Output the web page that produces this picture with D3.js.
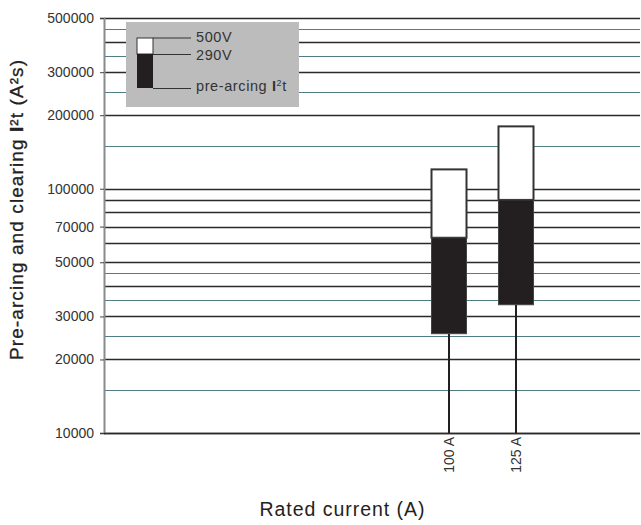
<!DOCTYPE html>
<html>
<head>
<meta charset="utf-8">
<script src="https://cdn.jsdelivr.net/npm/d3@7"></script>
<style>
html,body{margin:0;padding:0;background:#fff;}
svg{display:block;font-family:"Liberation Sans",Arial,sans-serif;}
</style>
</head>
<body>
<svg id="chart" width="641" height="525"></svg>
<script>
// Data
const categories = ["100 A", "125 A"];
const preArcing = [25500, 33500];
const clearing290V = [63000, 90000];
const clearing500V = [120000, 180000];
const majorGrid = [10000, 20000, 30000, 40000, 50000, 60000, 70000, 80000, 90000, 100000, 200000, 300000, 400000, 500000];
const minorGrid = [15000, 25000, 35000, 45000, 150000, 250000, 350000, 450000];
const yTickLabels = [10000, 20000, 30000, 50000, 70000, 100000, 200000, 300000, 500000];
const legendLabels = ["500V", "290V", "pre-arcing"];

const svg = d3.select("#chart");
const mLeft = 104, mRight = 640, mTop = 18, mBottom = 433;

const y = d3.scaleLog().domain([10000, 500000]).range([mBottom, mTop]);
const x = d3.scalePoint().domain(["", "100 A", "125 A", " "]).range([382, 583]);

// grid
svg.append("g").selectAll("line").data(minorGrid).join("line")
  .attr("x1", mLeft).attr("x2", mRight)
  .attr("y1", d => Math.round(y(d)) + 0.5).attr("y2", d => Math.round(y(d)) + 0.5)
  .attr("stroke", "#4f7d84").attr("stroke-width", 1.2);
svg.append("g").selectAll("line").data(majorGrid).join("line")
  .attr("x1", mLeft).attr("x2", mRight)
  .attr("y1", d => Math.round(y(d)) + 0.5).attr("y2", d => Math.round(y(d)) + 0.5)
  .attr("stroke", "#2a2a2a").attr("stroke-width", 1.4);

// y axis
const yAxis = d3.axisLeft(y).tickValues(yTickLabels).tickFormat(d3.format("d")).tickSize(4).tickPadding(6);
const gy = svg.append("g").attr("transform", `translate(${mLeft},0)`).call(yAxis);
gy.select(".domain").attr("stroke", "#8a8a8a").attr("stroke-width", 2);
gy.selectAll(".tick line").attr("stroke", "#444");
gy.selectAll(".tick text").attr("font-size", 14).attr("fill", "#333")
  .attr("font-family", "'Liberation Sans',Arial,sans-serif");

// bottom axis
const xAxis = d3.axisBottom(x).tickValues(categories).tickSize(0).tickPadding(4);
const gx = svg.append("g").attr("transform", `translate(0,${mBottom})`).call(xAxis);
gx.select(".domain").remove();
gx.selectAll(".tick text").attr("font-size", 14).attr("fill", "#333")
  .attr("font-family", "'Liberation Sans',Arial,sans-serif")
  .attr("transform", "rotate(-90)")
  .attr("text-anchor", "end").attr("dy", "0.35em").attr("x", -4).attr("y", 0);
svg.append("line").attr("x1", mLeft).attr("x2", mRight).attr("y1", mBottom + 0.5).attr("y2", mBottom + 0.5)
  .attr("stroke", "#2a2a2a").attr("stroke-width", 1.6);

// bars
const bw = 35;
const g = svg.append("g");
categories.forEach((c, i) => {
  const cx = x(c);
  g.append("line").attr("x1", cx).attr("x2", cx).attr("y1", y(preArcing[i])).attr("y2", mBottom)
    .attr("stroke", "#231f20").attr("stroke-width", 2);
  g.append("rect").attr("x", cx - bw / 2).attr("width", bw)
    .attr("y", y(clearing500V[i])).attr("height", y(clearing290V[i]) - y(clearing500V[i]))
    .attr("fill", "#fff").attr("stroke", "#333").attr("stroke-width", 2);
  g.append("rect").attr("x", cx - bw / 2).attr("width", bw)
    .attr("y", y(clearing290V[i])).attr("height", y(preArcing[i]) - y(clearing290V[i]))
    .attr("fill", "#231f20").attr("stroke", "#444").attr("stroke-width", 1);
});

// legend
const lg = svg.append("g");
lg.append("rect").attr("x", 126).attr("y", 22).attr("width", 173).attr("height", 85).attr("fill", "#bcbcbc");
lg.append("rect").attr("x", 137).attr("y", 38).attr("width", 16).attr("height", 16)
  .attr("fill", "#fff").attr("stroke", "#333").attr("stroke-width", 1);
lg.append("rect").attr("x", 137).attr("y", 54).attr("width", 16).attr("height", 34).attr("fill", "#231f20");
const ly = [37.5, 54, 88];
lg.selectAll("line.l").data(ly).join("line").attr("class", "l")
  .attr("x1", 153).attr("x2", 191).attr("y1", d => d + 0.5).attr("y2", d => d + 0.5)
  .attr("stroke", "#333").attr("stroke-width", 1);
const lt = lg.selectAll("text").data(legendLabels).join("text")
  .attr("x", 196).attr("y", (d, i) => [42, 60, 90.5][i])
  .attr("font-size", 14.5).attr("letter-spacing", 0.6).attr("fill", "#333");
lt.filter((d, i) => i < 2).text(d => d);
const last = lt.filter((d, i) => i === 2);
last.append("tspan").text(d => d + " ");
last.append("tspan").attr("font-weight", "bold").text("I");
last.append("tspan").attr("font-size", 9).attr("dy", -5).text("2");
last.append("tspan").attr("dy", 5).text("t");

// titles
svg.append("text").attr("x", 342).attr("y", 516).attr("text-anchor", "middle")
  .attr("font-size", 19.5).attr("fill", "#222")
  .attr("textLength", 165).attr("lengthAdjust", "spacing")
  .text("Rated current (A)");
const yt = svg.append("text").attr("transform", "translate(23,210) rotate(-90)").attr("text-anchor", "middle")
  .attr("font-size", 19).attr("fill", "#222").attr("stroke", "#222").attr("stroke-width", 0.3)
  .attr("textLength", 300).attr("lengthAdjust", "spacing");
yt.append("tspan").text("Pre-arcing and clearing ");
yt.append("tspan").attr("font-weight", "bold").text("I");
yt.append("tspan").text("²t (A²s)");
</script>
</body>
</html>
